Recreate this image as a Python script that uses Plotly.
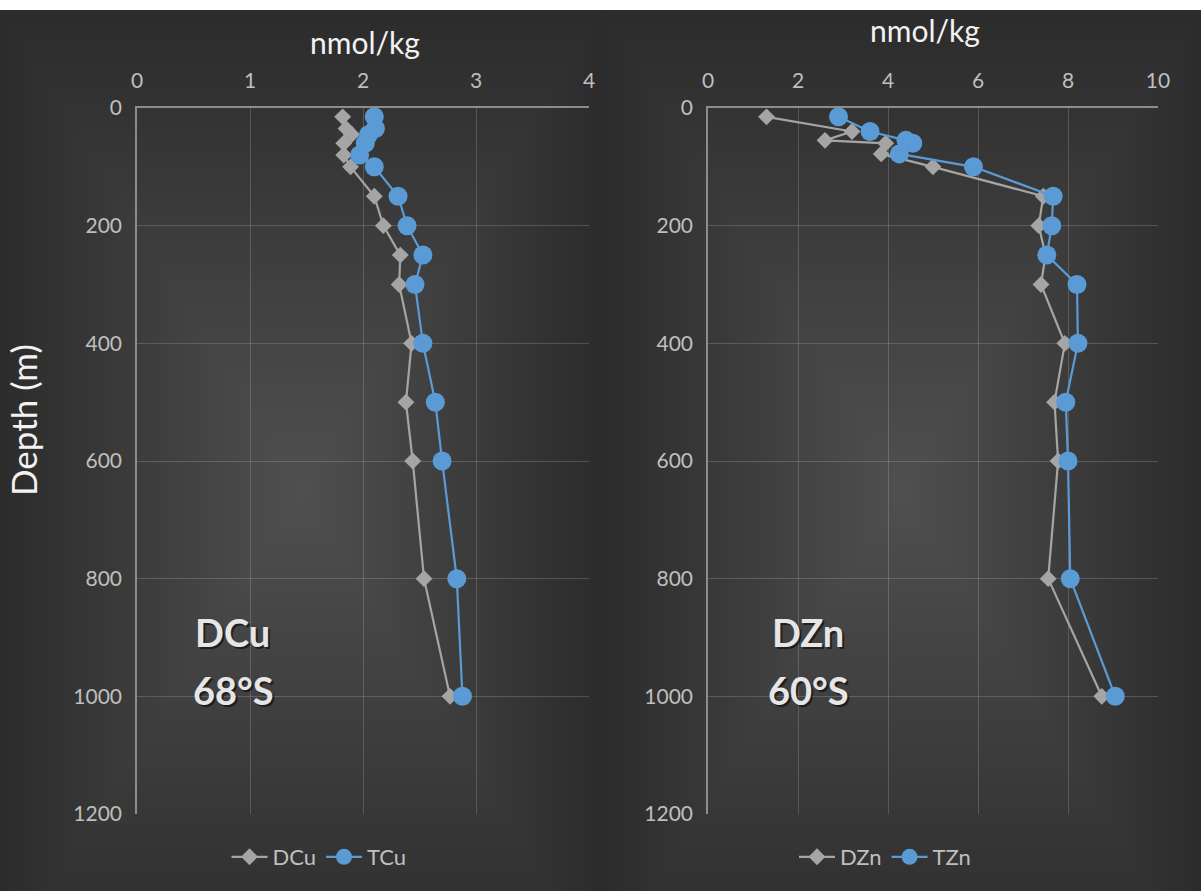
import plotly.graph_objects as go

# ---- data ----
depth_cu = [15, 35, 45, 60, 80, 100, 150, 200, 250, 300, 400, 500, 600, 800, 1000]
dcu = [1.82, 1.85, 1.90, 1.83, 1.83, 1.89, 2.10, 2.18, 2.33, 2.32, 2.43, 2.38, 2.44, 2.54, 2.77]
tcu = [2.10, 2.11, 2.05, 2.02, 1.97, 2.10, 2.31, 2.39, 2.53, 2.46, 2.53, 2.64, 2.70, 2.83, 2.88]

depth_zn = [15, 40, 55, 60, 78, 100, 150, 200, 250, 300, 400, 500, 600, 800, 1000]
dzn = [1.3, 3.2, 2.6, 3.95, 3.85, 5.0, 7.45, 7.35, 7.5, 7.4, 7.93, 7.7, 7.78, 7.56, 8.75]
tzn = [2.9, 3.6, 4.4, 4.55, 4.25, 5.9, 7.67, 7.64, 7.53, 8.2, 8.22, 7.95, 8.0, 8.05, 9.05]

cu_ticks = [0, 1, 2, 3, 4]
zn_ticks = [0, 2, 4, 6, 8, 10]
depth_ticks = [0, 200, 400, 600, 800, 1000, 1200]

W, H = 1201, 891
FONT = "Lato"
GRAY = "#a5a5a5"
BLUE = "#5b9bd5"
TICKC = "#bfbfbf"
GRID = "rgba(255,255,255,0.17)"
FRAME = "#8c8c8c"

fig = go.Figure()

def add_series(x, y, name, color, symbol, size, xa, ya, legend):
    fig.add_trace(go.Scatter(
        x=x, y=y, name=name, mode="lines+markers",
        line=dict(color=color, width=2.2),
        marker=dict(symbol=symbol, size=size, color=color),
        xaxis=xa, yaxis=ya, legend=legend))

add_series(dcu, depth_cu, "DCu", GRAY, "diamond", 13, "x", "y", "legend")
add_series(tcu, depth_cu, "TCu", BLUE, "circle", 19, "x", "y", "legend")
add_series(dzn, depth_zn, "DZn", GRAY, "diamond", 13, "x2", "y2", "legend2")
add_series(tzn, depth_zn, "TZn", BLUE, "circle", 19, "x2", "y2", "legend2")

def px(v):
    return v / W

def py(v):
    return 1 - v / H

ytop, ybot = py(108), py(814)

xcommon = dict(side="top", showgrid=True, gridcolor=GRID, gridwidth=1,
               showline=True, linecolor=FRAME, linewidth=1.5, zeroline=False,
               tickfont=dict(family=FONT, size=21, color=TICKC), automargin=False,
               ticklabelstandoff=10, ticks="")
ycommon = dict(range=[1200, 0], tickvals=depth_ticks, showgrid=True, gridcolor=GRID,
               gridwidth=1, showline=True, linecolor=FRAME, linewidth=1.5, automargin=False,
               zeroline=False, tickfont=dict(family=FONT, size=21, color=TICKC),
               ticklabelstandoff=9, ticks="")

fig.update_layout(
    width=W, height=H, margin=dict(l=0, r=0, t=0, b=0, autoexpand=False),
    paper_bgcolor="#2b2b2b", plot_bgcolor="rgba(0,0,0,0)",
    font=dict(family=FONT, color=TICKC),
    xaxis=dict(domain=[px(137), px(589)], range=[0, 4], tickvals=cu_ticks,
               anchor="y", **xcommon),
    yaxis=dict(domain=[ybot, ytop], anchor="x", **ycommon),
    xaxis2=dict(domain=[px(708), px(1158)], range=[0, 10], tickvals=zn_ticks,
                anchor="y2", **xcommon),
    yaxis2=dict(domain=[ybot, ytop], anchor="x2", **ycommon),
    legend=dict(orientation="h", x=px(319), xanchor="center", y=py(857), yanchor="middle",
                font=dict(family=FONT, size=22, color=TICKC), bgcolor="rgba(0,0,0,0)",
                itemwidth=36),
    legend2=dict(orientation="h", x=px(885), xanchor="center", y=py(857), yanchor="middle",
                 font=dict(family=FONT, size=22, color=TICKC), bgcolor="rgba(0,0,0,0)",
                 itemwidth=36),
)

# background gradient approximation (two chart areas)
shapes = []
N = 36
for (x0, x1) in [(0, 601), (603, 1201)]:
    cx = (x0 + x1) / 2
    cy = 490
    for k in range(N):
        f = 1 - k / N
        hw = (x1 - x0) / 2 * f
        hh = 480 * f
        shapes.append(dict(type="rect", xref="paper", yref="paper",
                           x0=px(max(x0, cx - hw)), x1=px(min(x1, cx + hw)),
                           y0=py(min(891, cy + hh)), y1=py(max(10, cy - hh)),
                           fillcolor="rgba(255,255,255,0.008)", line=dict(width=0),
                           layer="below"))
shapes.append(dict(type="rect", xref="paper", yref="paper", x0=0, x1=1, y0=py(10), y1=1,
                   fillcolor="white", line=dict(width=0), layer="above"))
fig.update_layout(shapes=shapes)

ann = []
def text(x, y, t, size, color="#f2f2f2", bold=False, angle=0, shadow=False):
    s = f"<b>{t}</b>" if bold else t
    if shadow:
        ann.append(dict(xref="paper", yref="paper", x=px(x + 2), y=py(y + 2), text=s,
                        showarrow=False, textangle=angle, xanchor="center", yanchor="middle",
                        font=dict(family=FONT, size=size, color="rgba(0,0,0,0.55)")))
    ann.append(dict(xref="paper", yref="paper", x=px(x), y=py(y), text=s,
                    showarrow=False, textangle=angle, xanchor="center", yanchor="middle",
                    font=dict(family=FONT, size=size, color=color)))

text(365, 42, "nmol/kg", 30)
text(925, 30, "nmol/kg", 30)
text(23, 420, "Depth (m)", 35, angle=-90)
text(232, 632, "DCu", 38, "#e6e6e6", bold=True, shadow=True)
text(233, 690, "68°S", 38, "#e6e6e6", bold=True, shadow=True)
text(808, 632, "DZn", 38, "#e6e6e6", bold=True, shadow=True)
text(808, 690, "60°S", 38, "#e6e6e6", bold=True, shadow=True)
fig.update_layout(annotations=ann)

fig.write_html("out.html", config={"displayModeBar": False},
               post_script="document.body.style.margin='0';document.documentElement.style.overflow='hidden';")
